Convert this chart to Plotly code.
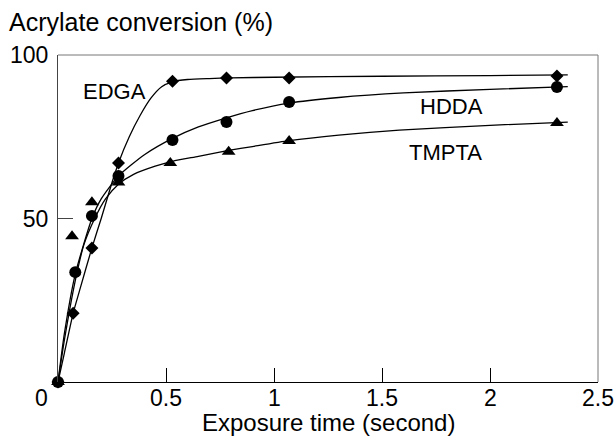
import plotly.graph_objects as go

# ---- measured data points ----
edga_x = [0, 0.07, 0.157, 0.28, 0.53, 0.78, 1.07, 2.31]
edga_y = [0, 21, 41, 67, 92, 93, 93, 93.6]

hdda_x = [0, 0.08, 0.157, 0.28, 0.53, 0.78, 1.07, 2.31]
hdda_y = [0, 33.6, 50.8, 63, 74, 79.5, 85.6, 90.2]

tmpta_x = [0, 0.065, 0.157, 0.28, 0.52, 0.79, 1.07, 2.31]
tmpta_y = [0, 44.6, 55, 61, 67, 70.4, 73.7, 79.2]

# ---- fitted curves ----
edga_cx = [0, 0.03, 0.07, 0.1, 0.157, 0.2, 0.25, 0.28, 0.33, 0.38, 0.43, 0.48, 0.53, 0.6, 0.7, 0.8, 1.0, 1.5, 2.0, 2.36]
edga_cy = [0, 9, 21, 28, 41, 50, 61, 67, 75, 81.5, 86.8, 90.3, 91.8, 92.5, 92.8, 93, 93.2, 93.5, 93.7, 93.9]

hdda_cx = [0, 0.03, 0.08, 0.157, 0.2, 0.28, 0.4, 0.53, 0.65, 0.78, 0.9, 1.07, 1.3, 1.6, 2.0, 2.36]
hdda_cy = [0, 15, 33, 50, 56, 63, 69.5, 74.5, 78, 80.8, 83, 85.3, 87, 88.4, 89.5, 90.3]

tmpta_cx = [0, 0.03, 0.08, 0.12, 0.17, 0.22, 0.28, 0.35, 0.45, 0.53, 0.65, 0.79, 0.9, 1.07, 1.3, 1.58, 2.0, 2.36]
tmpta_cy = [0, 13, 31, 42, 50, 56, 60.5, 63.5, 66, 67.5, 69, 70.8, 72, 73.8, 75.5, 77, 78.5, 79.5]

x_ticks = [0.5, 1, 1.5, 2, 2.5]
x_ticktext = ["0.5", "1", "1.5", "2", "2.5"]
y_ticks = [50, 100]
y_ticktext = ["50", "100"]

FONT = "Liberation Sans, Arial, sans-serif"

fig = go.Figure()

curve_line = dict(color="black", width=1.3, shape="spline", smoothing=0.6)
for cx, cy in [(edga_cx, edga_cy), (hdda_cx, hdda_cy), (tmpta_cx, tmpta_cy)]:
    fig.add_trace(go.Scatter(x=cx, y=cy, mode="lines", line=curve_line,
                             showlegend=False, hoverinfo="skip", cliponaxis=False))

fig.add_trace(go.Scatter(x=edga_x, y=edga_y, mode="markers", name="EDGA",
                         marker=dict(symbol="diamond", size=10, color="black"),
                         showlegend=False, cliponaxis=False))
fig.add_trace(go.Scatter(x=hdda_x, y=hdda_y, mode="markers", name="HDDA",
                         marker=dict(symbol="circle", size=12, color="black"),
                         showlegend=False, cliponaxis=False))
fig.add_trace(go.Scatter(x=tmpta_x, y=tmpta_y, mode="markers", name="TMPTA",
                         marker=dict(symbol="triangle-up", size=12, color="black"),
                         showlegend=False, cliponaxis=False))

fig.update_layout(
    width=615, height=436,
    margin=dict(l=58, r=17, t=55, b=54, autoexpand=False),
    paper_bgcolor="white", plot_bgcolor="white",
    font=dict(family=FONT, size=23, color="black"),
    xaxis=dict(range=[0, 2.5], tickvals=x_ticks, showticklabels=False,
               ticks="inside", ticklen=14, tickwidth=1, tickcolor="black",
               showgrid=False, zeroline=False, showline=True, linecolor="black",
               linewidth=1, automargin=False),
    yaxis=dict(range=[0, 100], tickvals=y_ticks, ticktext=y_ticktext,
               ticks="inside", ticklen=15, tickwidth=1, tickcolor="#444",
               showgrid=False, zeroline=False, showline=True, linecolor="#444",
               linewidth=1, ticklabelstandoff=4, automargin=False,
               tickfont=dict(family=FONT, size=23)),
)

# top and right frame (lighter)
fig.add_shape(type="line", xref="paper", yref="paper", x0=0, x1=1, y0=1, y1=1,
              line=dict(color="#777", width=1))
fig.add_shape(type="line", xref="paper", yref="paper", x0=1, x1=1, y0=0, y1=1,
              line=dict(color="#777", width=1))

# x tick labels
for xv, tt in zip(x_ticks, x_ticktext):
    fig.add_annotation(x=xv, xref="x", y=0, yref="paper", yanchor="middle",
                       yshift=-16, text=tt, showarrow=False,
                       font=dict(family=FONT, size=23))

# series labels
for txt, x, y in [("EDGA", 0.26, 88.8), ("HDDA", 1.82, 84.3), ("TMPTA", 1.795, 70.3)]:
    fig.add_annotation(x=x, y=y, text=txt, showarrow=False,
                       font=dict(family=FONT, size=22, color="black"))

# origin "0" label
fig.add_annotation(xref="paper", yref="paper", x=0, y=0, xshift=-25, yshift=-16,
                   yanchor="middle", text="0", showarrow=False,
                   font=dict(family=FONT, size=23))

# axis titles
fig.add_annotation(xref="paper", yref="paper", x=0.5, y=0, yshift=-40,
                   yanchor="middle", text="Exposure time (second)", showarrow=False,
                   font=dict(family=FONT, size=24))
fig.add_annotation(xref="paper", yref="paper", x=0, y=1, xshift=-51, yshift=33,
                   xanchor="left", yanchor="middle", text="Acrylate conversion (%)",
                   showarrow=False, font=dict(family=FONT, size=25))

fig.write_html("out.html", config={"displayModeBar": False},
               post_script="document.body.style.margin='0';document.body.style.overflow='hidden';")
